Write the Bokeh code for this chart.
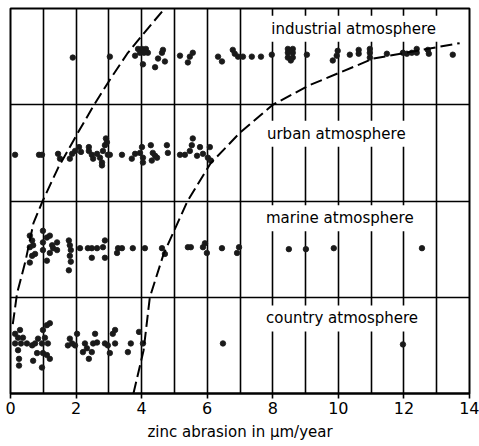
from bokeh.plotting import figure
from bokeh.models import Range1d, FixedTicker, Grid, Label, ColumnDataSource
from bokeh.embed import file_html
from bokeh.resources import INLINE

# ---- data ----
band_names = ["country atmosphere", "marine atmosphere", "urban atmosphere", "industrial atmosphere"]

# x = zinc abrasion in µm/year, dy = vertical scatter within band (band heights)
industrial_x = [1.90, 3.03, 3.89, 4.01, 4.13, 3.95, 4.07, 4.19, 3.80, 4.04, 4.41, 4.50, 4.62, 4.65, 4.71,
                5.17, 5.47, 5.56, 5.41, 6.33, 6.45, 6.78, 6.84, 6.94, 7.09, 7.36, 7.64, 7.97,
                8.46, 8.61, 8.46, 8.61, 8.46, 8.61, 8.55, 9.04, 9.83, 9.95, 9.98, 10.35,
                10.62, 10.62, 10.96, 10.96, 10.96, 11.48, 11.97, 12.09, 12.24, 12.39, 12.39,
                12.73, 12.76, 13.49]
industrial_dy = [-0.01, 0.0, 0.08, 0.08, 0.08, 0.04, 0.04, 0.04, 0.01, -0.08, -0.11, -0.02, 0.04, 0.07, -0.05,
                 0.01, 0.0, 0.04, -0.06, 0.0, -0.05, 0.07, 0.03, 0.0, 0.0, 0.0, 0.0, 0.02,
                 0.08, 0.08, 0.04, 0.04, -0.01, -0.01, -0.04, 0.02, -0.04, 0.01, 0.06, 0.02,
                 0.07, 0.03, 0.08, 0.04, -0.01, 0.03, 0.04, 0.03, 0.04, 0.08, 0.04,
                 0.07, 0.03, 0.02]

urban_x = [0.14, 0.87, 0.96, 1.45, 1.51, 1.81, 1.88, 1.97, 2.09, 2.15,
           2.39, 2.39, 2.48, 2.52, 2.64, 2.73, 2.79, 2.79, 2.82, 2.88, 2.91, 2.94, 2.97, 3.03,
           3.40, 3.70, 3.80, 3.95, 4.01, 4.04, 4.04, 4.28, 4.34, 4.41, 4.31, 4.47, 4.77, 4.80,
           5.17, 5.32, 5.47, 5.53, 5.56, 5.69, 5.78, 5.87, 6.02, 6.08, 6.11]
urban_dy = [-0.02, -0.02, -0.02, -0.01, -0.06, -0.06, -0.01, 0.02, 0.06, 0.01,
            0.06, 0.02, -0.02, -0.06, -0.01, -0.05, -0.10, -0.13, 0.02, 0.08, 0.15, 0.11, -0.02, -0.02,
            -0.02, -0.06, -0.01, 0.0, 0.06, -0.05, -0.10, 0.08, 0.0, -0.03, -0.08, -0.05, 0.08, 0.0,
            -0.02, -0.02, 0.02, 0.08, 0.15, -0.03, 0.06, -0.01, -0.05, 0.06, -0.08]

marine_x = [0.59, 0.66, 0.59, 0.69, 0.66, 0.59, 0.75, 0.99, 0.99, 0.99, 1.11, 1.11, 1.20, 1.27, 1.30,
            1.42, 1.42, 1.20, 1.78, 1.81, 1.84, 1.81, 1.84, 1.78, 2.12, 2.36, 2.48, 2.48, 2.64,
            2.88, 2.82, 2.88, 3.25, 3.28, 3.40, 3.73, 4.10, 4.62, 4.71, 5.41, 5.50,
            5.87, 5.93, 5.99, 6.45, 6.91, 6.97, 8.49, 9.01, 9.86, 12.55]
marine_dy = [0.14, 0.09, 0.02, 0.04, -0.07, -0.14, -0.05, 0.19, 0.07, -0.01, -0.12, 0.12, 0.14, 0.04, 0.01,
             0.07, -0.01, -0.04, 0.09, 0.04, -0.01, -0.07, -0.13, -0.22, 0.01, 0.01, 0.01, -0.09, 0.01,
             0.09, 0.02, -0.09, -0.04, 0.01, 0.01, 0.01, 0.01, 0.01, -0.05, 0.02, 0.02,
             0.02, 0.06, -0.04, 0.01, -0.04, 0.02, 0.0, 0.0, 0.01, 0.01]

country_x = [0.14, 0.14, 0.23, 0.23, 0.26, 0.26, 0.29, 0.32, 0.38, 0.50, 0.66, 0.75, 0.69, 0.81, 0.84,
             0.96, 0.99, 1.05, 1.11, 1.20, 1.14, 0.96, 0.99, 1.20, 1.11,
             1.75, 1.81, 1.88, 2.03, 1.97, 2.27, 2.21, 2.33, 2.39, 2.48, 2.52, 2.58, 2.64,
             2.88, 2.97, 3.03, 3.12, 3.19, 3.19, 3.58, 3.67, 3.92, 4.04, 6.48, 11.97]
country_dy = [0.12, 0.02, 0.08, -0.05, -0.14, -0.21, 0.16, 0.02, 0.08, 0.02, 0.0, 0.02, -0.16, -0.08, 0.07,
              0.02, 0.16, 0.08, 0.21, 0.23, 0.02, -0.23, -0.08, -0.14, -0.10,
              0.0, 0.07, 0.02, 0.12, 0.0, 0.02, -0.07, -0.03, -0.14, -0.07, 0.02, 0.12, 0.03,
              0.02, 0.0, -0.08, 0.12, 0.16, 0.02, -0.07, 0.02, 0.14, 0.02, 0.02, 0.01]

# dashed limit curves (x in µm/year, y in band units from bottom)
left_curve_x = [0.07, 0.2, 0.46, 0.7, 0.98, 1.46, 2.04, 2.55, 3.05, 3.56, 4.06, 4.7]
left_curve_y = [0.72, 1.04, 1.38, 1.77, 2.0, 2.35, 2.7, 3.0, 3.27, 3.53, 3.74, 4.0]
right_curve_x = [3.75, 4.06, 4.25, 4.67, 5.4, 6.1, 7.0, 8.0, 9.1, 11.07, 13.7]
right_curve_y = [0.0, 0.45, 1.0, 1.45, 2.0, 2.39, 2.71, 3.0, 3.2, 3.48, 3.64]

label_x = [7.67, 7.67, 7.7, 7.83]
label_y = [0.78, 1.82, 2.70, 3.79]

x_ticks = [0, 2, 4, 6, 8, 10, 12, 14]
grid_x = list(range(1, 14))
band_edges = [1, 2, 3]

FONT = "DejaVu Sans"

p = figure(width=479, height=446, output_backend="svg", toolbar_location=None,
           x_range=Range1d(0, 14), y_range=Range1d(0, 4), y_axis_location=None,
           min_border_left=10, min_border_right=10, min_border_top=8, min_border_bottom=53)
p.background_fill_color = "white"
p.border_fill_color = "white"
p.outline_line_color = "black"
p.outline_line_width = 2
# remove default grids
for r in list(p.center):
    if isinstance(r, Grid):
        r.visible = False

p.add_layout(Grid(dimension=0, ticker=FixedTicker(ticks=grid_x),
                  grid_line_color="black", grid_line_width=1.6))
p.add_layout(Grid(dimension=1, ticker=FixedTicker(ticks=band_edges),
                  grid_line_color="black", grid_line_width=1.6))

ax = p.xaxis[0]
ax.ticker = FixedTicker(ticks=x_ticks)
ax.minor_tick_line_color = None
ax.major_tick_in = 0
ax.major_tick_out = 5
ax.major_tick_line_width = 1.6
ax.axis_line_width = 2
ax.axis_line_color = "black"
ax.major_label_text_font = FONT
ax.major_label_text_font_size = "16px"
ax.major_label_text_color = "black"
ax.major_label_standoff = 3
ax.axis_label = "zinc abrasion in µm/year"
ax.axis_label_text_font = FONT
ax.axis_label_text_font_size = "15px"
ax.axis_label_text_font_style = "normal"
ax.axis_label_text_color = "black"
ax.axis_label_standoff = 6

# labels with white background
for name, lx, ly in zip(band_names, label_x, label_y):
    p.add_layout(Label(x=lx, y=ly, text=name, text_font=FONT, text_font_size="15px",
                       text_baseline="middle", text_align="left", text_color="black",
                       background_fill_color="white", padding=4))

# dots
series = [(country_x, country_dy, 0), (marine_x, marine_dy, 1),
          (urban_x, urban_dy, 2), (industrial_x, industrial_dy, 3)]
for xs, dys, band in series:
    ys = [band + 0.5 + d for d in dys]
    src = ColumnDataSource(dict(x=xs, y=ys))
    p.scatter("x", "y", source=src, marker="circle", size=5.5,
              fill_color="#1a1a1a", line_color="#1a1a1a", line_width=0.8)

# dashed curves
p.line(left_curve_x, left_curve_y, line_color="black", line_width=2, line_dash="12 5")
p.line(right_curve_x, right_curve_y, line_color="black", line_width=2, line_dash="12 5")

open("out.html", "w").write(file_html(p, INLINE))
